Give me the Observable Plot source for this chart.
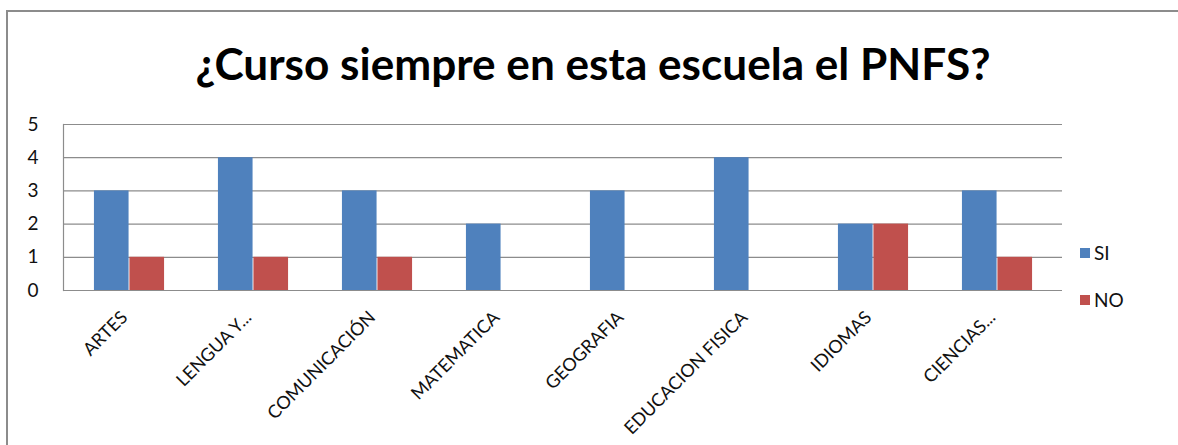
<!DOCTYPE html>
<html><head><meta charset="utf-8">
<script src="https://cdn.jsdelivr.net/npm/d3@7"></script>
<script src="https://cdn.jsdelivr.net/npm/@observablehq/plot@0.6"></script>
<style>
html,body{margin:0;background:#fff;overflow:hidden;}
#wrap{position:relative;width:1178px;height:445px;overflow:hidden;font-family:Lato,"Open Sans",sans-serif;background:#fff;}
#bg{position:absolute;left:0;top:0;}
#chart{position:absolute;left:0;top:0;}
.leg{position:absolute;left:1080px;font-size:19px;color:#111;line-height:20px;display:flex;align-items:center;}
.leg span.sw{display:inline-block;width:10px;height:10px;margin-right:4px;}
</style></head>
<body>
<div id="wrap">
  <div id="chart"></div>
  <div id="legend"></div>
</div>
<script>
const categories = ["ARTES","LENGUA Y...","COMUNICACIÓN","MATEMATICA","GEOGRAFIA","EDUCACION FISICA","IDIOMAS","CIENCIAS..."];
const si = [3,4,3,2,3,4,2,3];
const no = [1,1,1,0,0,0,2,1];
const seriesNames = ["SI","NO"];
const seriesColors = ["#4F81BD","#C0504D"];
const yTicks = [0,1,2,3,4,5];
const titleText = "¿Curso siempre en esta escuela el PNFS?";

const rowsSI = categories.map((c,i)=>({cat:c, serie:seriesNames[0], value:si[i]}));
const rowsNO = categories.map((c,i)=>({cat:c, serie:seriesNames[1], value:no[i]}));

const W = 1178, H = 445, mL = 63, mR = 116, mT = 124, mB = 155;
const band = (W - mL - mR) / categories.length;
const barW = 35.5;
const font = "Lato, 'Open Sans', sans-serif";

// background: outer chart border (left and top edges) + title
const bg = d3.select("#wrap").insert("svg", "#chart").attr("id","bg").attr("width", W).attr("height", H);
bg.append("path").attr("d", `M7,${H}V11H${W}`).attr("fill","none").attr("stroke","#8c8c8c").attr("stroke-width",2);
bg.append("text")
  .attr("x", 593).attr("y", 80)
  .attr("text-anchor", "middle")
  .attr("font-family", font).attr("font-weight", "bold").attr("font-size", 44)
  .attr("textLength", 795).attr("lengthAdjust", "spacingAndGlyphs")
  .attr("fill", "#000")
  .text(titleText);

const chart = Plot.plot({
  width: W, height: H,
  marginLeft: mL, marginRight: mR, marginTop: mT, marginBottom: mB,
  style: {fontFamily: font, background: "transparent", overflow: "visible", color: "#111"},
  x: {domain: categories, padding: 0, label: null},
  y: {domain: [0, 5], label: null},
  marks: [
    Plot.gridY(yTicks, {stroke: "#8c8c8c", strokeOpacity: 1, strokeWidth: 1.2}),
    Plot.barY(rowsSI, {x: "cat", y: "value", fill: seriesColors[0], insetLeft: band/2 - barW, insetRight: band/2}),
    Plot.barY(rowsNO, {x: "cat", y: "value", fill: seriesColors[1], insetLeft: band/2, insetRight: band/2 - barW}),
    Plot.frame({anchor: "left", stroke: "#8c8c8c", strokeWidth: 1.2}),
    Plot.axisY(yTicks, {tickSize: 0, tickPadding: 25, fontSize: 19, fill: "#111"}),
    Plot.axisX({tickSize: 0, tickRotate: -45, tickPadding: 24, dx: -5, fontSize: 18, fill: "#111"})
  ]
});
document.getElementById("chart").appendChild(chart);

// legend
const legTops = [243, 290];
const leg = d3.select("#legend");
seriesNames.forEach((s,i)=>{
  const item = leg.append("div").attr("class","leg").style("top", legTops[i] + "px");
  item.append("span").attr("class","sw").style("background", seriesColors[i]);
  item.append("span").text(s);
});
</script>
</body></html>
